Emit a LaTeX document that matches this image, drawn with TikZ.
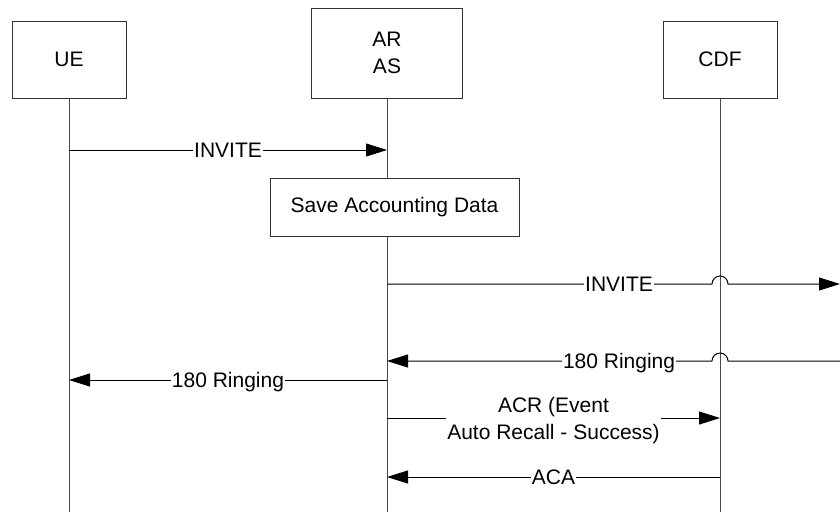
\documentclass[tikz,border=0pt]{standalone}
\usepackage{fontspec}
\setmainfont{Liberation Sans}
\usetikzlibrary{arrows.meta}

\begin{document}
\begin{tikzpicture}[x=1pt, y=-1pt,
        every node/.style={font=\fontsize{21}{27}\selectfont},
        entity/.style={draw=black!80, line width=1pt, fill=white, align=center,
            minimum width=114pt, minimum height=77pt},
        life/.style={draw=black!70, line width=1pt},
        msg/.style={line width=1pt, -{Triangle[length=21pt, width=13pt]}},
        lbl/.style={fill=white, inner sep=1pt, text depth=0pt, align=center}]
            \useasboundingbox (0,0) rectangle (840,512);

            %Nodes
            \node[entity] at (69,59.5) (UE) {UE};
            \node[entity, minimum width=151pt, minimum height=90pt] at (387,53) (AR) {AR\\AS};
            \node[entity] at (720,59.5) (CDF) {CDF};
            \coordinate (UEend) at (69,512);
            \coordinate (ARend) at (387,512);
            \coordinate (CDFend) at (720,512);
            \coordinate (out1) at (840,284);
            \coordinate (out2) at (840,361);

            %Lifelines
            \draw[life] (UE.south) -- (UEend);
            \draw[life] (AR.south) -- (ARend);
            \draw[life] (CDF.south) -- (CDFend);

            \node[entity, minimum width=249pt, minimum height=58pt] at (394.5,207) (save) {Save Accounting Data};

            %Messages
            \draw[msg] (UE.south |- 0,150) -- node[lbl] {INVITE} (AR.south |- 0,150);
            \draw[msg] (AR.south |- 0,284) -- node[lbl, pos=0.714] {INVITE} (712,284)
                arc[start angle=180, end angle=0, radius=8pt] -- (out1);
            \draw[msg] (out2) -- (728,361) arc[start angle=0, end angle=180, radius=8pt]
                -- node[lbl, pos=0.286] {180 Ringing} (AR.south |- 0,361);
            \draw[msg] (AR.south |- 0,380) -- node[lbl] {180 Ringing} (UE.south |- 0,380);
            \draw[msg] (AR.south |- 0,418) -- node[lbl] {ACR (Event\\Auto Recall - Success)} (CDF.south |- 0,418);
            \draw[msg] (CDF.south |- 0,477) -- node[lbl] {ACA} (AR.south |- 0,477);
\end{tikzpicture}
\end{document}
